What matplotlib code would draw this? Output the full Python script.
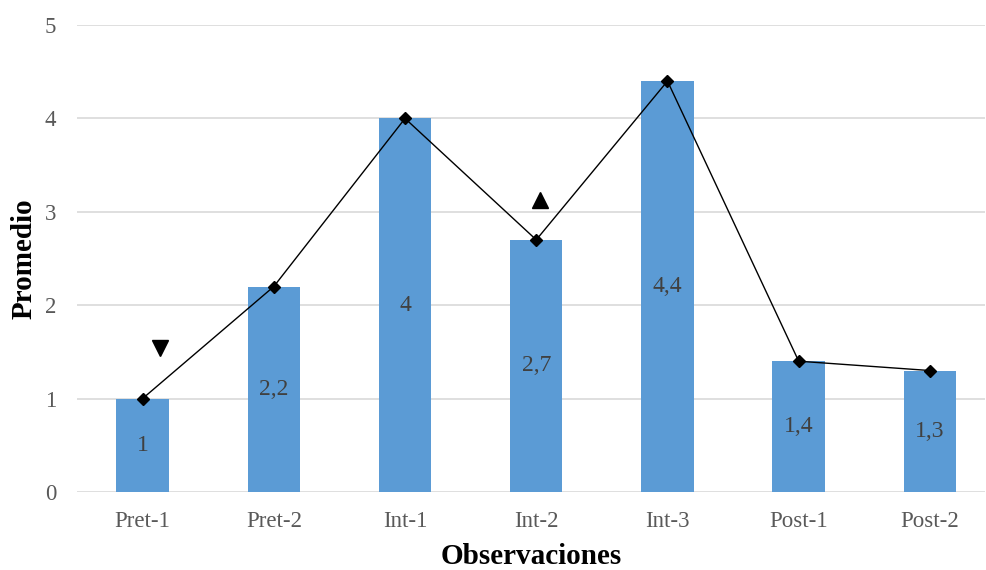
import matplotlib.pyplot as plt
import numpy as np

plt.rcParams['font.family'] = ['Liberation Serif', 'DejaVu Serif']

categorias = ['Pret-1', 'Pret-2', 'Int-1', 'Int-2', 'Int-3', 'Post-1', 'Post-2']
promedios = [1.0, 2.2, 4.0, 2.7, 4.4, 1.4, 1.3]
etiquetas = ['1', '2,2', '4', '2,7', '4,4', '1,4', '1,3']

# triangle markers (x position, y value, marker)
flechas = [(0.13, 1.54, 'v'), (3.03, 3.13, '^')]

fig = plt.figure(figsize=(9.87, 5.70), dpi=100)
ax = fig.add_axes([0.078, 0.137, 0.92, 0.819])

x = np.arange(len(categorias))
ax.bar(x, promedios, width=0.4, color='#5b9bd5', zorder=2)
ax.plot(x, promedios, color='black', lw=1, marker='D', markersize=6, zorder=3)

for xi, yi, lab in zip(x, promedios, etiquetas):
    ax.text(xi, yi / 2, lab, ha='center', va='center', fontsize=17, color='#404040', zorder=4)

for fx, fy, m in flechas:
    ax.plot(fx, fy, marker=m, color='black', markersize=11, zorder=4)

ax.set_xlim(-0.5, 6.42)
ax.set_ylim(0, 5)
ax.set_yticks(range(6))
ax.set_xticks(x)
ax.set_xticklabels(categorias)
ax.tick_params(length=0, labelsize=16.5, labelcolor='#595959', pad=14)
ax.tick_params(axis='y', pad=15)
ax.yaxis.grid(True, color='#d9d9d9', lw=1.2, zorder=0)
for s in ax.spines.values():
    s.set_visible(False)

ax.set_xlabel('Observaciones', fontsize=21, fontweight='bold', labelpad=8)
ax.set_ylabel('Promedio', fontsize=21, fontweight='bold', labelpad=5)

fig.savefig('out.png', dpi=100)
